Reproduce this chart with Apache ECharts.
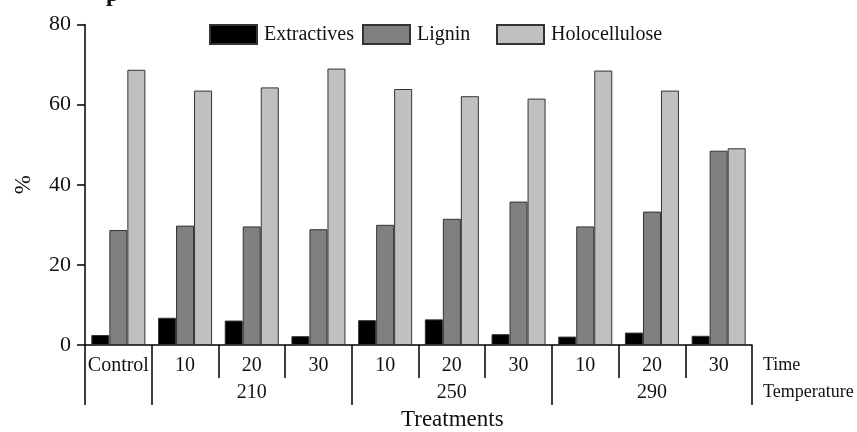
<!DOCTYPE html>
<html>
<head>
<meta charset="utf-8">
<script src="https://cdn.jsdelivr.net/npm/echarts@6/dist/echarts.min.js"></script>
<style>
html,body{margin:0;padding:0;background:#fff;}
#chart{width:857px;height:432px;}
</style>
</head>
<body>
<div id="chart"></div>
<script>
// ---- data ----
const timeLabels = ['Control', '10', '20', '30', '10', '20', '30', '10', '20', '30'];
const temperatureLabels = ['210', '250', '290'];
const extractives = [2.5, 6.8, 6.1, 2.2, 6.2, 6.4, 2.7, 2.1, 3.1, 2.3];
const lignin = [28.7, 29.8, 29.6, 28.9, 30.0, 31.5, 35.8, 29.6, 33.3, 48.5];
const holocellulose = [68.7, 63.5, 64.3, 69.0, 63.9, 62.1, 61.5, 68.5, 63.5, 49.1];
const yTicks = [0, 20, 40, 60, 80];
// group boundaries (in category units) and group label centres
const groupBounds = [0, 1, 4, 7, 10];
const groupCentres = [2.5, 5.5, 8.5];

const FONT = '"Liberation Serif", "Times New Roman", serif';
const chart = echarts.init(document.getElementById('chart'));

const barStyle = (c) => ({ color: c, borderColor: '#333', borderWidth: 1 });

const legendBase = {
  top: 24, padding: 0, itemWidth: 47, itemHeight: 19, itemGap: 0,
  textStyle: { fontFamily: FONT, fontSize: 20, color: '#111', padding: [0, 0, 0, 2] },
  icon: 'rect'
};

chart.setOption({
  animation: false,
  backgroundColor: '#fff',
  grid: { left: 85, right: 105, top: 24.5, bottom: 87, outerBoundsMode: 'none', containLabel: false },
  legend: [
    Object.assign({}, legendBase, { left: 209, data: ['Extractives'] }),
    Object.assign({}, legendBase, { left: 362, data: ['Lignin'] }),
    Object.assign({}, legendBase, { left: 496, data: ['Holocellulose'] })
  ],
  xAxis: [
    {
      type: 'category',
      data: timeLabels,
      position: 'bottom',
      axisLine: { lineStyle: { color: '#000', width: 1.5 } },
      axisTick: { show: true, interval: 0, length: 33, lineStyle: { color: '#000', width: 1.5 } },
      axisLabel: { interval: 0, margin: 11, fontFamily: FONT, fontSize: 20, color: '#111' }
    },
    {
      type: 'value',
      min: 0, max: 10,
      position: 'bottom',
      axisLine: { show: false },
      splitLine: { show: false },
      axisTick: { show: true, customValues: groupBounds, length: 60, lineStyle: { color: '#000', width: 1.5 } },
      axisLabel: {
        customValues: groupCentres, margin: 38, fontFamily: FONT, fontSize: 20, color: '#111',
        formatter: (v) => { const i = groupCentres.indexOf(v); return i >= 0 ? temperatureLabels[i] : ''; }
      }
    }
  ],
  yAxis: {
    type: 'value', min: 0, max: 80, interval: 20,
    name: '%', nameLocation: 'middle', nameGap: 50, nameRotate: 90,
    nameTextStyle: { fontFamily: FONT, fontSize: 23, color: '#111' },
    axisLine: { show: true, lineStyle: { color: '#000', width: 1.5 } },
    axisTick: { show: true, length: 8, lineStyle: { color: '#000', width: 1.5 } },
    axisLabel: { margin: 14, fontFamily: FONT, fontSize: 22, color: '#111',
      formatter: (v) => yTicks.indexOf(v) >= 0 ? String(v) : '' },
    splitLine: { show: false }
  },
  series: [
    { name: 'Extractives', type: 'bar', data: extractives, itemStyle: barStyle('#000'), barGap: '0%', barCategoryGap: '19%' },
    { name: 'Lignin', type: 'bar', data: lignin, itemStyle: barStyle('#808080'), barGap: '0%', barCategoryGap: '19%' },
    { name: 'Holocellulose', type: 'bar', data: holocellulose, itemStyle: barStyle('#c0c0c0'), barGap: '0%', barCategoryGap: '19%' }
  ],
  graphic: [
    { type: 'text', left: 763, top: 356, style: { text: 'Time', font: '18px ' + FONT, fill: '#111' } },
    { type: 'text', left: 763, top: 383, style: { text: 'Temperature', font: '18px ' + FONT, fill: '#111' } },
    { type: 'text', left: 401, top: 408, style: { text: 'Treatments', font: '23px ' + FONT, fill: '#111' } },
    { type: 'text', left: 106, top: -17, style: { text: 'p', font: 'bold 24px ' + FONT, fill: '#111' } }
  ]
});
</script>
</body>
</html>
